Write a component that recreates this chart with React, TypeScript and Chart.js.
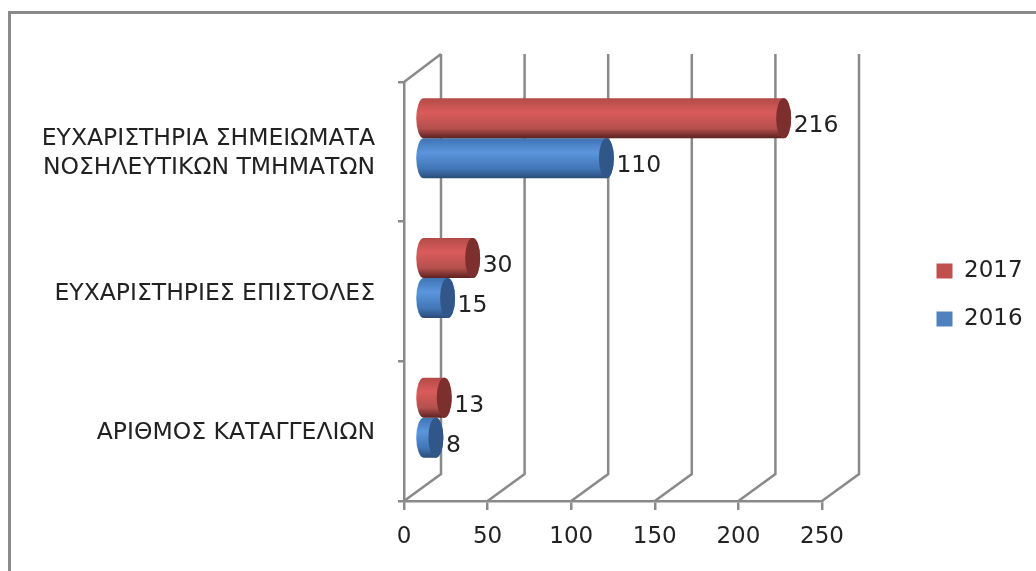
import React, { useEffect, useRef } from "react";
import { Chart, registerables } from "chart.js";

Chart.register(...registerables);

const categories = [
  ["ΕΥΧΑΡΙΣΤΗΡΙΑ ΣΗΜΕΙΩΜΑΤΑ", "ΝΟΣΗΛΕΥΤΙΚΩΝ ΤΜΗΜΑΤΩΝ"],
  "ΕΥΧΑΡΙΣΤΗΡΙΕΣ ΕΠΙΣΤΟΛΕΣ",
  "ΑΡΙΘΜΟΣ ΚΑΤΑΓΓΕΛΙΩΝ",
];
const values2017 = [216, 30, 13];
const values2016 = [110, 15, 8];
const xTicks = [0, 50, 100, 150, 200, 250];

const FONT = "'DejaVu Sans', sans-serif";
const GREY = "#8a8a8a";
const TEXT = "#222222";
const DEPTH_X = 37;
const DEPTH_Y = 27;
const PALETTE = [
  { swatch: "#C0504D", stops: ["#b34a47", "#d95c5b", "#b5504d", "#5a2220"], cap: "#7d2f2d" },
  { swatch: "#4F81BD", stops: ["#3f74b4", "#5b95dc", "#4277b8", "#2a4c78"], cap: "#30568a" },
];

const walls = {
  id: "walls",
  beforeDatasetsDraw(chart: any) {
    const { ctx, chartArea: a } = chart;
    const sx = chart.scales.x;
    ctx.save();
    ctx.strokeStyle = GREY;
    ctx.lineWidth = 2.5;
    ctx.beginPath();
    sx.ticks.forEach((_: any, i: number) => {
      const p = sx.getPixelForTick(i);
      ctx.moveTo(p, a.bottom);
      ctx.lineTo(p + DEPTH_X, a.bottom - DEPTH_Y);
      ctx.lineTo(p + DEPTH_X, a.top - DEPTH_Y - 1);
    });
    ctx.moveTo(a.left, a.top);
    ctx.lineTo(a.left + DEPTH_X, a.top - DEPTH_Y - 1);
    ctx.stroke();
    ctx.restore();
  },
};

const cylinders = {
  id: "cylinders",
  beforeDatasetDraw(chart: any, args: any) {
    const { ctx } = chart;
    const look = PALETTE[args.index];
    const dx = DEPTH_X / 2;
    const dy = DEPTH_Y / 2;
    const rx = 7.5;
    args.meta.data.forEach((el: any) => {
      const h = el.height / 2;
      const cy = el.y - dy;
      const x0 = el.base + dx;
      const x1 = el.x + dx;
      const g = ctx.createLinearGradient(0, cy - h, 0, cy + h);
      g.addColorStop(0, look.stops[0]);
      g.addColorStop(0.35, look.stops[1]);
      g.addColorStop(0.75, look.stops[2]);
      g.addColorStop(1, look.stops[3]);
      ctx.save();
      ctx.fillStyle = g;
      ctx.beginPath();
      ctx.ellipse(x0, cy, rx, h, 0, Math.PI / 2, (3 * Math.PI) / 2);
      ctx.lineTo(x1, cy - h);
      ctx.ellipse(x1, cy, rx, h, 0, -Math.PI / 2, Math.PI / 2);
      ctx.closePath();
      ctx.fill();
      ctx.fillStyle = look.cap;
      ctx.beginPath();
      ctx.ellipse(x1, cy, rx, h, 0, 0, 2 * Math.PI);
      ctx.fill();
      ctx.restore();
    });
    return false;
  },
  afterDatasetsDraw(chart: any) {
    const { ctx } = chart;
    ctx.save();
    ctx.font = `23.5px ${FONT}`;
    ctx.fillStyle = TEXT;
    ctx.textBaseline = "middle";
    ctx.textAlign = "left";
    chart.data.datasets.forEach((ds: any, i: number) => {
      chart.getDatasetMeta(i).data.forEach((el: any, j: number) => {
        ctx.fillText(String(ds.data[j]), el.x + DEPTH_X / 2 + 10, el.y - DEPTH_Y / 2 + 8);
      });
    });
    ctx.restore();
  },
};

const placeLegend = {
  id: "placeLegend",
  afterLayout(chart: any) {
    const l = chart.legend;
    const w = l.width;
    const h = l.height;
    l.left = 911.5;
    l.right = l.left + w;
    l.top = 295 - h / 2;
    l.bottom = l.top + h;
  },
};

export default function App() {
  const ref = useRef<HTMLCanvasElement>(null);
  useEffect(() => {
    document.body.style.margin = "0";
    document.body.style.overflow = "hidden";
    const chart = new Chart(ref.current!, {
      type: "bar",
      data: {
        labels: categories as any,
        datasets: [
          { label: "2017", data: values2017, backgroundColor: PALETTE[0].swatch },
          { label: "2016", data: values2016, backgroundColor: PALETTE[1].swatch },
        ],
      },
      plugins: [walls, cylinders, placeLegend],
      options: {
        indexAxis: "y",
        animation: false,
        responsive: false,
        layout: { padding: { top: 82, right: 214, left: 0, bottom: 0 } },
        datasets: { bar: { categoryPercentage: 0.573, barPercentage: 1 } },
        plugins: {
          title: { display: false },
          tooltip: { enabled: false },
          legend: {
            position: "chartArea" as any,
            labels: {
              boxWidth: 16,
              boxHeight: 15,
              padding: 25,
              color: TEXT,
              font: { family: FONT, size: 23 },
            },
          },
        },
        scales: {
          x: {
            min: 0,
            max: 250,
            afterBuildTicks: (s: any) => {
              s.ticks = xTicks.map((value) => ({ value }));
            },
            afterFit: (s: any) => {
              s.height = 70;
            },
            grid: { drawOnChartArea: false, color: GREY, lineWidth: 2.5, tickLength: 9 },
            border: { color: GREY, width: 2.5 },
            ticks: {
              color: TEXT,
              padding: 13,
              maxRotation: 0,
              font: { family: FONT, size: 23 },
            },
          },
          y: {
            afterFit: (s: any) => {
              s.width = 404;
            },
            grid: { drawOnChartArea: false, color: GREY, lineWidth: 2.5, tickLength: 6, offset: true },
            border: { color: GREY, width: 2.5 },
            ticks: {
              color: TEXT,
              padding: 23,
              labelOffset: 2,
              font: { family: FONT, size: 23.5, lineHeight: 1.23 },
            },
          },
        },
      },
    });
    return () => chart.destroy();
  }, []);
  return (
    <div style={{ position: "fixed", left: 0, top: 0, width: 1036, height: 571, background: "#fff", overflow: "hidden" }}>
      <canvas ref={ref} width={1036} height={571} style={{ display: "block", width: 1036, height: 571, filter: "blur(0.4px)" }} />
      <div style={{ position: "absolute", left: 8, top: 11, width: 1100, height: 700, borderLeft: `3px solid ${GREY}`, borderTop: `3px solid ${GREY}` }} />
    </div>
  );
}
